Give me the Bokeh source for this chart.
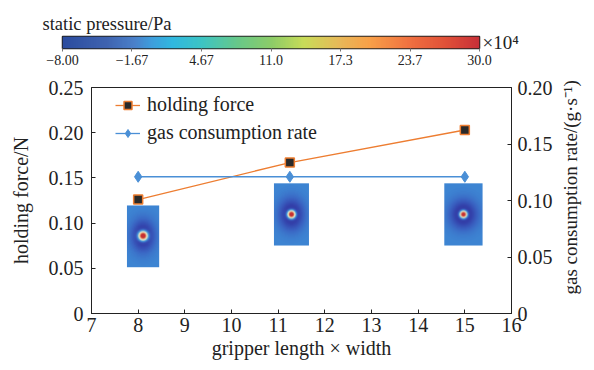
import numpy as np
from bokeh.plotting import figure
from bokeh.models import (Range1d, LinearAxis, FixedTicker, LinearColorMapper, Title,
                          Legend, LegendItem, NumeralTickFormatter)
from bokeh.embed import file_html
from bokeh.resources import INLINE

# ---------------- data ----------------
sizes = [8.0, 11.25, 15.0]                 # gripper length x width
holding_force = [0.126, 0.167, 0.203]      # N
gas_rate = [0.121, 0.121, 0.121]           # g/s

x_ticks = [7, 8, 9, 10, 11, 12, 13, 14, 15, 16]
y_left_ticks = [0, 0.05, 0.10, 0.15, 0.20, 0.25]
y_right_ticks = [0, 0.05, 0.10, 0.15, 0.20]

cb_low, cb_high = -8.0, 30.0
cb_ticks = [-8.0, -1.667, 4.667, 11.0, 17.333, 23.667, 30.0]
cb_labels = ["\u22128.00", "\u22121.67", "4.67", "11.0", "17.3", "23.7", "30.0"]

# pressure contour thumbnails (data-space placement)
img_x = [7.76, 10.91, 14.56]
img_y = [0.0512, 0.0752, 0.0752]
img_w = [0.69, 0.75, 0.82]
img_h = [0.0683, 0.0688, 0.0688]
img_px = [(32, 62), (35, 62), (38, 62)]
img_halo = [(11.0, 15.0), (12.0, 15.0), (13.0, 14.0)]
img_core = [4.0, 3.5, 3.2]

FONT = "Liberation Serif"
INK = "#222222"

bar_anchors = [(-8, "#2B4C9F"), (-4, "#3F63B0"), (-1.5, "#4A80CA"), (0, "#3E9CDC"),
               (2, "#30B8E0"), (4.67, "#3CC4C4"), (8, "#68C888"), (11, "#8CCC68"),
               (14, "#C8DC58"), (17.3, "#E8B858"), (20, "#F8A048"), (23.7, "#F07040"),
               (27, "#E05038"), (30, "#C83038")]
thumb_anchors = [(-8, "#2F3799"), (-6, "#3340AA"), (-3.5, "#3A66C4"), (-1.6, "#3D86D3"),
                 (2, "#6AB0D8"), (6, "#C8D4D0"), (10, "#DCDCC4"), (14, "#E4C8A0"),
                 (20, "#E08060"), (25, "#D04A40"), (30, "#C43034")]


def build_palette(anchors, n=256):
    vs = np.array([a[0] for a in anchors], dtype=float)
    cols = np.array([[int(c[i:i + 2], 16) for i in (1, 3, 5)] for _, c in anchors], dtype=float)
    out = []
    for g in np.linspace(cb_low, cb_high, n):
        rgb = [np.interp(g, vs, cols[:, k]) for k in range(3)]
        out.append("#%02x%02x%02x" % tuple(int(round(v)) for v in rgb))
    return out


mapper = LinearColorMapper(palette=build_palette(bar_anchors), low=cb_low, high=cb_high)
thumb_mapper = LinearColorMapper(palette=build_palette(thumb_anchors), low=cb_low, high=cb_high)


def thumb(nx, ny, halo, core):
    xx, yy = np.meshgrid(np.arange(nx) - (nx - 1) / 2.0, np.arange(ny) - (ny - 1) / 2.0)
    rr = np.sqrt((xx / halo[0]) ** 2 + (yy / halo[1]) ** 2)
    r = np.sqrt(xx ** 2 + yy ** 2)
    v = -1.6 - 6.4 * np.exp(-rr ** 2) + 44.0 * np.exp(-(r / core) ** 2)
    return np.clip(v, cb_low, cb_high)


# ---------------- colorbar figure ----------------
cb = figure(width=594, height=72, x_range=Range1d(cb_low, cb_high), y_range=Range1d(0, 1),
            output_backend="svg", toolbar_location=None,
            min_border_left=62, min_border_right=115, min_border_top=36, min_border_bottom=24)
cb.image(image=[np.linspace(cb_low, cb_high, 256).reshape(1, -1)], x=cb_low, y=0,
         dw=cb_high - cb_low, dh=1, color_mapper=mapper)
cb.outline_line_color = INK
cb.outline_line_width = 1.5
cb.grid.visible = False
cb.yaxis.visible = False
cb.xaxis.ticker = FixedTicker(ticks=cb_ticks)
cb.xaxis.major_label_overrides = {t: l for t, l in zip(cb_ticks, cb_labels)}
cb.xaxis.axis_line_color = None
cb.xaxis.major_tick_out = 3
cb.xaxis.major_tick_in = 0
cb.xaxis.major_tick_line_color = "#777777"
cb.xaxis.minor_tick_line_color = None
cb.xaxis.major_label_standoff = 3
cb.xaxis.major_label_text_font = FONT
cb.xaxis.major_label_text_font_size = "14px"
cb.xaxis.major_label_text_color = INK
cb.title = Title(text="static pressure/Pa", align="left", offset=-20, standoff=6,
                 text_font=FONT, text_font_size="18.5px", text_font_style="normal",
                 text_color=INK)
unit_axis = LinearAxis(ticker=FixedTicker(ticks=[]), axis_label="\u00d710\u2074",
                       axis_line_color=None, major_tick_line_color=None,
                       minor_tick_line_color=None, axis_label_standoff=3,
                       axis_label_text_font=FONT, axis_label_text_font_size="19px",
                       axis_label_text_font_style="normal", axis_label_text_color=INK)
if "axis_label_orientation" in unit_axis.properties():
    unit_axis.axis_label_orientation = "horizontal"
cb.add_layout(unit_axis, "right")

# ---------------- main figure ----------------
p = figure(width=594, height=294, x_range=Range1d(7, 16), y_range=Range1d(0, 0.25),
           output_backend="svg", toolbar_location=None,
           min_border_left=91, min_border_right=82, min_border_top=15, min_border_bottom=53)
p.extra_y_ranges = {"gas": Range1d(0, 0.20)}
p.grid.visible = False
p.outline_line_color = INK
p.outline_line_width = 1

for i in range(3):
    nx, ny = img_px[i]
    p.image(image=[thumb(nx, ny, img_halo[i], img_core[i])], x=img_x[i], y=img_y[i],
            dw=img_w[i], dh=img_h[i], color_mapper=thumb_mapper)

orange = "#ED7D31"
blue = "#4A8FD6"
l1 = p.line(sizes, holding_force, line_color=orange, line_width=1.3)
m1 = p.scatter(sizes, holding_force, marker="square", size=9, fill_color="#2a2a2a",
               line_color=orange, line_width=1.5)
l2 = p.line(sizes, gas_rate, line_color=blue, line_width=1.3, y_range_name="gas")
m2 = p.scatter(sizes, gas_rate, marker="diamond", size=11, fill_color=blue,
               line_color=blue, y_range_name="gas")

right = LinearAxis(y_range_name="gas",
                   axis_label="\u2002\u2002gas consumption rate/(g\u00b7s\u207b\u00b9)")
p.add_layout(right, "right")

for ax in [p.xaxis[0], p.yaxis[0], right]:
    ax.major_tick_in = 4
    ax.major_tick_out = 0
    ax.minor_tick_line_color = None
    ax.axis_line_color = INK
    ax.major_tick_line_color = INK
    ax.major_label_text_font = FONT
    ax.major_label_text_font_size = "20px"
    ax.major_label_text_color = INK
    ax.axis_label_text_font = FONT
    ax.axis_label_text_font_size = "20px"
    ax.axis_label_text_font_style = "normal"
    ax.axis_label_text_color = INK

right.axis_label_text_font_size = "19px"

p.xaxis.ticker = FixedTicker(ticks=x_ticks)
p.xaxis.axis_label = "gripper length \u00d7 width"
p.xaxis.major_label_standoff = 4
p.xaxis.axis_label_standoff = 2

p.yaxis[0].ticker = FixedTicker(ticks=y_left_ticks)
p.yaxis[0].formatter = NumeralTickFormatter(format="0.00")
p.yaxis[0].major_label_overrides = {0: "0"}
p.yaxis[0].axis_label = "holding force/N"
p.yaxis[0].major_label_standoff = 8
p.yaxis[0].axis_label_standoff = 14

right.ticker = FixedTicker(ticks=y_right_ticks)
right.formatter = NumeralTickFormatter(format="0.00")
right.major_label_overrides = {0: "0"}
right.major_label_standoff = 6
right.axis_label_standoff = 15
if "axis_label_orientation" in right.properties():
    right.axis_label_orientation = np.pi / 2
    right.axis_label_align = "start"

legend = Legend(items=[LegendItem(label="holding force", renderers=[l1, m1]),
                       LegendItem(label="gas consumption rate", renderers=[l2, m2])],
                location=(24, 169), margin=0, padding=0, spacing=5,
                glyph_width=25, glyph_height=20, label_height=20, label_standoff=7,
                label_text_font=FONT, label_text_font_size="20px", label_text_color=INK,
                border_line_color=None, background_fill_color=None)
p.add_layout(legend)

open("out.html", "w").write(file_html([cb, p], INLINE))
